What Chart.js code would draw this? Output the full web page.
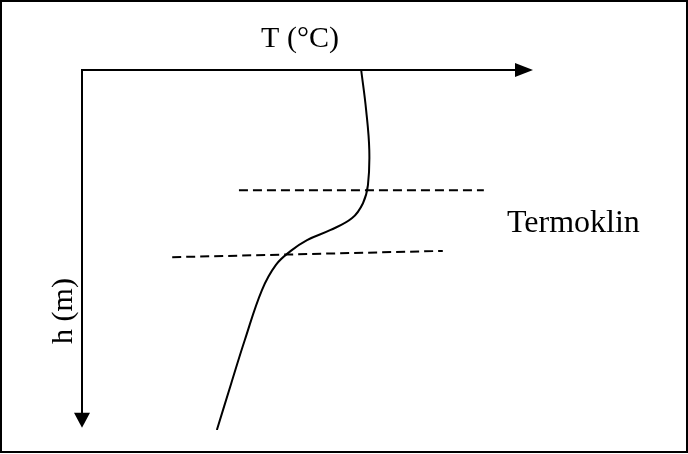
<!DOCTYPE html>
<html>
<head>
<meta charset="utf-8">
<script src="https://cdn.jsdelivr.net/npm/chart.js@4.4.0/dist/chart.umd.min.js"></script>
<style>
  body { margin: 0; background: #fff; }
  canvas { display: block; }
</style>
</head>
<body>
<canvas id="chart" width="688" height="454"></canvas>
<script>
// temperature profile (schematic units), h increases downwards
const profileT = [6.19, 6.30, 6.37, 6.34, 6.23, 5.99, 5.50, 4.99, 4.63, 4.30, 3.99, 3.61, 3.31, 2.99];
const profileH = [0, 0.89, 1.78, 2.56, 2.96, 3.29, 3.56, 3.78, 4.02, 4.33, 4.89, 6.0, 6.96, 8.0];

// thermocline boundaries (dashed)
const upperT = [3.48, 8.91];
const upperH = [2.67, 2.67];
const lowerT = [2.0, 8.0];
const lowerH = [4.16, 4.02];

const xTitle = 'T (°C)';
const yTitle = 'h (m)';
const zoneLabel = 'Termoklin';

const tMax = 10;
const hMax = 8;
const arrowH = 7.95;

const ink = '#000';
const serif = '"Liberation Serif", "Times New Roman", serif';

function pts(xs, ys) {
    return xs.map((x, i) => ({ x: x, y: ys[i] }));
}

const diagramPlugin = {
    id: 'diagram',
    beforeDraw(chart) {
        const ctx = chart.ctx;
        ctx.save();
        ctx.fillStyle = '#fff';
        ctx.fillRect(0, 0, chart.width, chart.height);
        ctx.strokeStyle = ink;
        ctx.lineWidth = 2;
        ctx.strokeRect(1, 1, chart.width - 2, chart.height - 3);
        ctx.restore();
    },
    afterDatasetsDraw(chart) {
        const ctx = chart.ctx;
        const xs = chart.scales.x, ys = chart.scales.y;
        const x0 = xs.getPixelForValue(0);
        const y0 = ys.getPixelForValue(0);
        const xEnd = xs.getPixelForValue(tMax);
        const yEnd = ys.getPixelForValue(arrowH);

        ctx.save();
        ctx.strokeStyle = ink;
        ctx.fillStyle = ink;
        ctx.lineWidth = 2;
        // T axis
        ctx.beginPath();
        ctx.moveTo(x0, y0);
        ctx.lineTo(xEnd - 16, y0);
        ctx.stroke();
        ctx.beginPath();
        ctx.moveTo(xEnd, y0);
        ctx.lineTo(xEnd - 18, y0 - 7);
        ctx.lineTo(xEnd - 18, y0 + 7);
        ctx.closePath();
        ctx.fill();
        // h axis
        ctx.beginPath();
        ctx.moveTo(x0, y0 - 1);
        ctx.lineTo(x0, yEnd - 12);
        ctx.stroke();
        ctx.beginPath();
        ctx.moveTo(x0, yEnd);
        ctx.lineTo(x0 - 8, yEnd - 15);
        ctx.lineTo(x0 + 8, yEnd - 15);
        ctx.closePath();
        ctx.fill();

        // titles
        ctx.font = '30px ' + serif;
        ctx.textAlign = 'center';
        ctx.textBaseline = 'alphabetic';
        ctx.fillText(xTitle, 300, 47);
        ctx.save();
        ctx.translate(72, 311);
        ctx.rotate(-Math.PI / 2);
        ctx.fillText(yTitle, 0, 0);
        ctx.restore();
        ctx.font = '32px ' + serif;
        ctx.textAlign = 'left';
        ctx.fillText(zoneLabel, 507, 232);
        ctx.restore();
    }
};

new Chart(document.getElementById('chart'), {
    type: 'scatter',
    data: {
        datasets: [
            {
                data: pts(profileT, profileH),
                showLine: true,
                borderColor: ink,
                borderWidth: 2,
                tension: 0.4,
                pointRadius: 0
            },
            {
                data: pts(upperT, upperH),
                showLine: true,
                borderColor: ink,
                borderWidth: 2,
                borderDash: [9, 5],
                pointRadius: 0
            },
            {
                data: pts(lowerT, lowerH),
                showLine: true,
                borderColor: ink,
                borderWidth: 2,
                borderDash: [9, 5],
                pointRadius: 0
            }
        ]
    },
    options: {
        responsive: false,
        animation: false,
        events: [],
        layout: { padding: { left: 82, right: 155, top: 70, bottom: 24 } },
        plugins: { legend: { display: false }, tooltip: { enabled: false } },
        scales: {
            x: { type: 'linear', min: 0, max: tMax, display: false },
            y: { type: 'linear', min: 0, max: hMax, reverse: true, display: false }
        }
    },
    plugins: [diagramPlugin]
});
</script>
</body>
</html>
